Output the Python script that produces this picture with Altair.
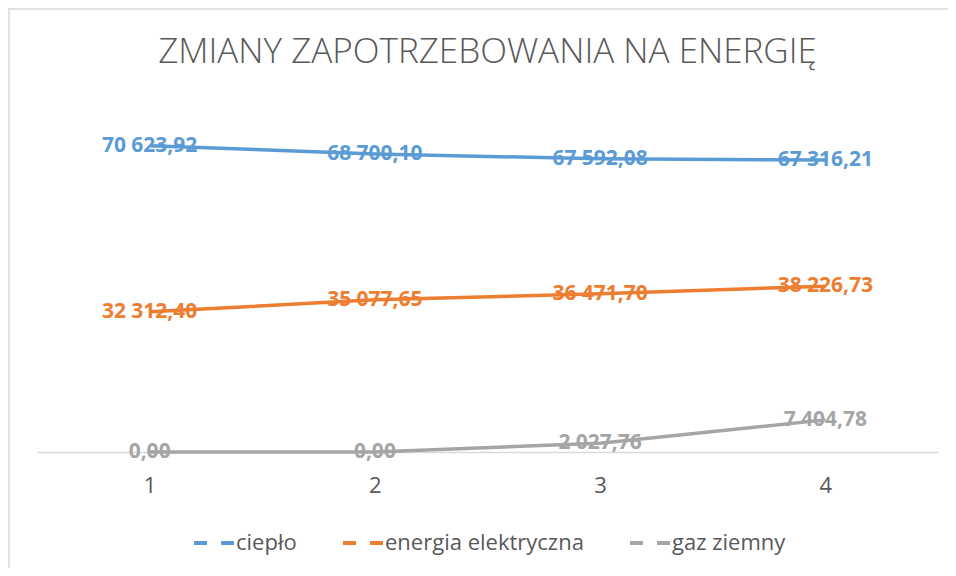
import altair as alt
import pandas as pd

periods = [1, 2, 3, 4]
series_names = ["ciepło", "energia elektryczna", "gaz ziemny"]
cieplo = [70623.92, 68700.10, 67592.08, 67316.21]
energia = [32312.40, 35077.65, 36471.70, 38226.73]
gaz = [0.00, 0.00, 2027.76, 7404.78]
colors = ["#5B9BD5", "#ED7D31", "#A5A5A5"]
title_text = "ZMIANY ZAPOTRZEBOWANIA NA ENERGIĘ"


def fmt(v):
    return f"{v:,.2f}".replace(",", " ").replace(".", ",")


rows = []
for name, vals in zip(series_names, [cieplo, energia, gaz]):
    for p, v in zip(periods, vals):
        rows.append({"okres": p, "seria": name, "wartosc": v, "etykieta": fmt(v)})
df = pd.DataFrame(rows)

W, H = 901, 347
PL, PT, PR, PB = 29, 97, 10, 116

x = alt.X(
    "okres:O",
    title=None,
    scale=alt.Scale(padding=0.5),
    axis=alt.Axis(
        labelAngle=0,
        domainColor="#D9D9D9",
        domainWidth=1.5,
        ticks=False,
        labelFontSize=22,
        labelColor="#595959",
        labelFont="Open Sans",
        labelPadding=23,
    ),
)
y = alt.Y("wartosc:Q", scale=alt.Scale(domain=[0, 80000]), axis=None)
color = alt.Color(
    "seria:N",
    scale=alt.Scale(domain=series_names, range=colors),
    legend=alt.Legend(
        title=None,
        orient="none",
        legendX=155,
        legendY=416,
        direction="horizontal",
        symbolType="stroke",
        symbolSize=1600,
        symbolStrokeWidth=4,
        symbolDash=[13, 14],
        labelFontSize=22,
        labelFont="Open Sans",
        labelColor="#595959",
        labelOffset=0,
        labelLimit=400,
        columnPadding=38,
    ),
)

base = alt.Chart(df).encode(x=x, y=y, color=color)
labels = base.mark_text(
    font="Open Sans", fontWeight="bold", fontSize=21, align="center", baseline="middle"
).encode(text="etykieta:N")
lines = base.mark_line(strokeWidth=3.5)

frame_df = pd.DataFrame({"k": [0]})
top_border = alt.Chart(frame_df).mark_rule(color="#D9D9D9", strokeWidth=1.5).encode(
    x=alt.value(-PL), x2=alt.value(W + PR), y=alt.value(-PT + 1)
)
left_border = alt.Chart(frame_df).mark_rule(color="#D9D9D9", strokeWidth=1.5).encode(
    x=alt.value(-PL + 1), y=alt.value(-PT), y2=alt.value(H + PB)
)

chart = (
    alt.layer(top_border, left_border, labels, lines)
    .properties(
        width=W,
        height=H,
        title=alt.TitleParams(
            title_text,
            font="Open Sans",
            fontSize=35,
            fontWeight=300,
            color="#595959",
            anchor="middle",
            offset=-63,
        ),
        autosize=alt.AutoSizeParams(type="none"),
        padding={"left": PL, "top": PT, "right": PR, "bottom": PB},
    )
    .configure_view(stroke=None)
)

chart.save("out.html", embed_options={"renderer": "svg", "actions": False})
